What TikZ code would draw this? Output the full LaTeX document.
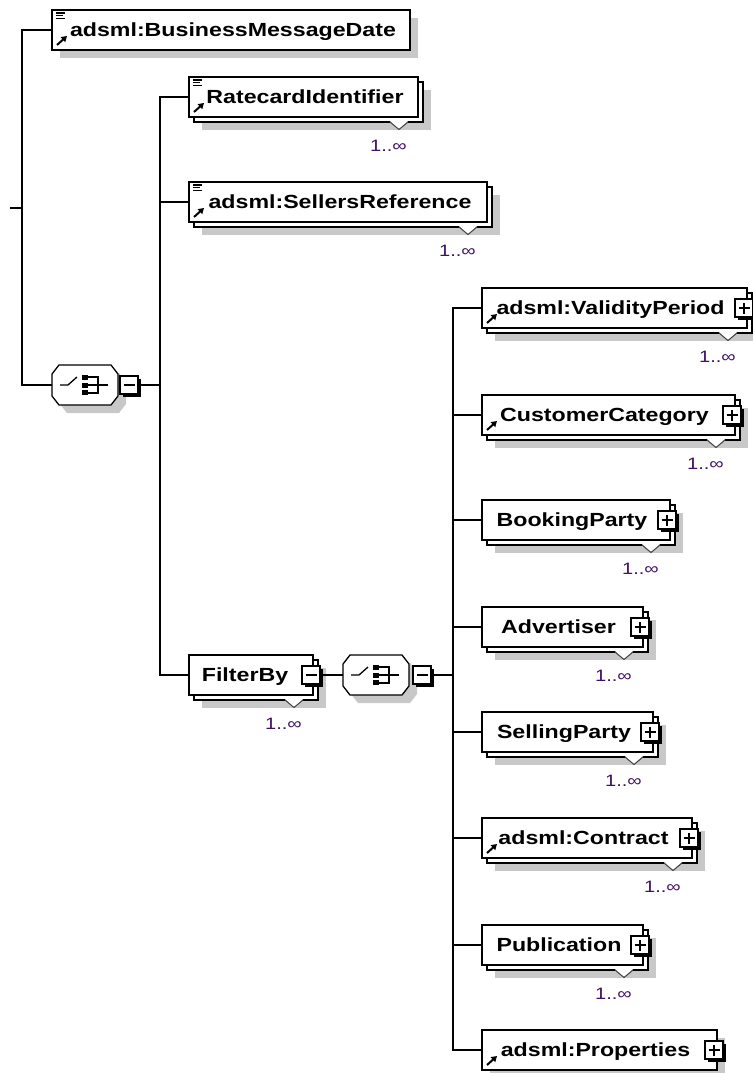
\documentclass[tikz,border=0pt]{standalone}
\usepackage{fontspec}
\newfontfamily\boxfont[FakeStretch=1.22]{Liberation Sans}
\usetikzlibrary{arrows.meta,calc}
\definecolor{shadowgray}{RGB}{200,200,200}
\definecolor{multcol}{RGB}{64,16,96}
\tikzset{
  conn/.style={line width=1.3pt, draw=black},
  el box/.style={draw, line width=1.3pt, fill=white, minimum height=40pt, inner sep=0pt, outer sep=0pt},
  shade box/.style={fill=shadowgray, minimum height=40pt, inner sep=0pt, outer sep=0pt},
  etext/.style={font=\boxfont\bfseries\fontsize{19}{21}\selectfont, inner sep=0pt},
  mult/.style={font=\boxfont\fontsize{16.5}{18}\selectfont, text=multcol, inner sep=0pt},
  pm box/.style={draw, line width=1.2pt, fill=white, minimum size=18pt, inner sep=0pt, outer sep=0pt},
  pm shadow/.style={fill=black, minimum size=18pt, inner sep=0pt, outer sep=0pt},
  pm sign/.style={line width=1.3pt},
  seq frame/.style={rectangle, minimum width=66pt, minimum height=40pt, inner sep=0pt, outer sep=0pt},
  seq line/.style={line width=1.3pt, fill=white},
  icon line/.style={line width=1.1pt},
  icon arrow/.style={line width=2pt, -{Triangle[length=5.5pt,width=6.5pt]}},
  notch line/.style={line width=1pt, draw=black!75},
}
% stacked element: name, left, cy, width
\newcommand{\StackEl}[4]{%
  \node[shade box, minimum width=#4pt, anchor=west] (#1s) at (#2+13,#3+13) {};
  \node[el box, minimum width=#4pt, anchor=west] (#1b) at (#2+5,#3+5) {};
  \node[el box, minimum width=#4pt, anchor=west] (#1) at (#2,#3) {};
}
% single element
\newcommand{\SingleEl}[4]{%
  \node[shade box, minimum width=#4pt, anchor=west] (#1s) at (#2+8,#3+8) {};
  \node[el box, minimum width=#4pt, anchor=west] (#1) at (#2,#3) {};
}
\newcommand{\ElText}[4]{\node[etext, anchor=base] (#1t) at (#2,#3+6.5) {#4};}
\newcommand{\DocIcon}[1]{%
  \draw[icon line] ([shift={(4pt,-3pt)}]#1.north west) -- ++(9pt,0pt);
  \draw[icon line] ([shift={(4pt,-5.8pt)}]#1.north west) -- ++(7pt,0pt);
  \draw[icon line] ([shift={(4pt,-8.6pt)}]#1.north west) -- ++(9pt,0pt);
}
\newcommand{\RefIcon}[1]{%
  \draw[icon arrow] ([shift={(5pt,5pt)}]#1.south west) -- ++(10pt,9pt);
}
\newcommand{\Notch}[1]{%
  \coordinate (#1v) at ([xshift=-24pt]#1b.south east);
  \fill[white] ([shift={(-9pt,0.8pt)}]#1v) -- ([shift={(9pt,0.8pt)}]#1v) -- ([yshift=-7.5pt]#1v) -- cycle;
  \draw[notch line] ([xshift=-9pt]#1v) -- ([yshift=-7.5pt]#1v) -- ([xshift=9pt]#1v);
  \node[mult, anchor=base east] (#1m) at ([shift={(8pt,-29pt)}]#1v) {1..∞};
}
% plus/minus box: name, coordinate, 1=plus 0=minus
\newcommand{\PMbox}[3]{%
  \coordinate (#1c) at #2;
  \node[pm shadow] (#1k) at ([shift={(2.5pt,-2.5pt)}]#1c) {};
  \node[pm box] (#1) at (#1c) {};
  \draw[pm sign] ([xshift=-5.5pt]#1.center) -- ([xshift=5.5pt]#1.center);
  \ifnum#3=1 \draw[pm sign] ([yshift=-5.5pt]#1.center) -- ([yshift=5.5pt]#1.center);\fi
}
% sequence compositor: name, cx, cy
\newcommand{\SeqComp}[3]{%
  \begin{scope}[shift={(#2,#3)}]
    \fill[shadowgray] (-25,-3) -- (-18,-12) -- (34,-12) -- (41,-3) -- (41,19) -- (34,28) -- (-18,28) -- (-25,19) -- cycle;
    \node[seq frame] (#1) at (0,0) {};
    \filldraw[seq line] (-33,-11) -- (-26,-20) -- (26,-20) -- (33,-11) -- (33,11) -- (26,20) -- (-26,20) -- (-33,11) -- cycle;
    \draw[line width=1.3pt] (-25,0) -- (-17,0) -- (-8,-8);
    \fill (-3,-10) rectangle (3,-5);
    \fill (-3,-2.5) rectangle (3,2.5);
    \fill (-3,5) rectangle (3,10);
    \draw[line width=1.3pt] (3,-8) -- (13,-8) -- (13,8) -- (3,8);
    \draw[line width=1.3pt] (3,0) -- (23,0);
  \end{scope}
}
\begin{document}
\begin{tikzpicture}[x=1pt,y=-1pt]
\useasboundingbox (0,0) rectangle (752,1073);

% ---- first level
\SingleEl{bmd}{52}{30}{358}
\DocIcon{bmd}\RefIcon{bmd}
\ElText{bmd}{233}{30}{adsml:BusinessMessageDate}

\SeqComp{seq1}{85}{385}
\PMbox{seq1m}{(129,385)}{0}

% ---- second level
\StackEl{rid}{189}{97}{229}
\Notch{rid}
\DocIcon{rid}\RefIcon{rid}
\ElText{rid}{305}{97}{RatecardIdentifier}

\StackEl{srf}{189}{202}{298}
\Notch{srf}
\DocIcon{srf}\RefIcon{srf}
\ElText{srf}{340}{202}{adsml:SellersReference}

\StackEl{fby}{189}{675}{124}
\Notch{fby}
\ElText{fby}{245}{675}{FilterBy}
\PMbox{fbym}{([xshift=-2pt]fby.east)}{0}

\SeqComp{seq2}{376}{675}
\PMbox{seq2m}{(422,675)}{0}

% ---- third level
\StackEl{vp}{482}{308}{265}
\Notch{vp}\RefIcon{vp}
\ElText{vp}{610.5}{308}{adsml:ValidityPeriod}
\PMbox{vpp}{([xshift=-3pt]vp.east)}{1}

\StackEl{cc}{482}{415}{253}
\Notch{cc}\RefIcon{cc}
\ElText{cc}{604.5}{415}{CustomerCategory}
\PMbox{ccp}{([xshift=-3pt]cc.east)}{1}

\StackEl{bp}{482}{520}{188}
\Notch{bp}
\ElText{bp}{572}{520}{BookingParty}
\PMbox{bpp}{([xshift=-3pt]bp.east)}{1}

\StackEl{adv}{482}{627}{161}
\Notch{adv}
\ElText{adv}{558.5}{627}{Advertiser}
\PMbox{advp}{([xshift=-3pt]adv.east)}{1}

\StackEl{sp}{482}{732}{171}
\Notch{sp}
\ElText{sp}{564}{732}{SellingParty}
\PMbox{spp}{([xshift=-3pt]sp.east)}{1}

\StackEl{con}{482}{838}{210}
\Notch{con}\RefIcon{con}
\ElText{con}{583.5}{838}{adsml:Contract}
\PMbox{conp}{([xshift=-3pt]con.east)}{1}

\StackEl{pub}{482}{945}{161}
\Notch{pub}
\ElText{pub}{559}{945}{Publication}
\PMbox{pubp}{([xshift=-3pt]pub.east)}{1}

\SingleEl{prop}{482}{1050}{235}
\RefIcon{prop}
\ElText{prop}{595.5}{1050}{adsml:Properties}
\PMbox{propp}{([xshift=-3pt]prop.east)}{1}

% ---- connectors
\coordinate (root) at (10,208);
\coordinate (busA) at (22,208);
\coordinate (busB) at (160,385);
\coordinate (busC) at (453,675);
\draw[conn] (root) -- (busA);
\draw[conn] (bmd.west) -| (busA) |- (seq1.west);
\draw[conn] (seq1m.east) -- (busB);
\draw[conn] (rid.west) -| (busB) |- (fby.west);
\draw[conn] (srf.west) -- (srf.west -| busB);
\draw[conn] (fbym.east) -- (seq2.west);
\draw[conn] (seq2m.east) -- (busC);
\draw[conn] (vp.west) -| (busC) |- (prop.west);
\foreach \n in {cc,bp,adv,sp,con,pub}{
  \draw[conn] (\n.west) -- (\n.west -| busC);
}
\end{tikzpicture}
\end{document}
